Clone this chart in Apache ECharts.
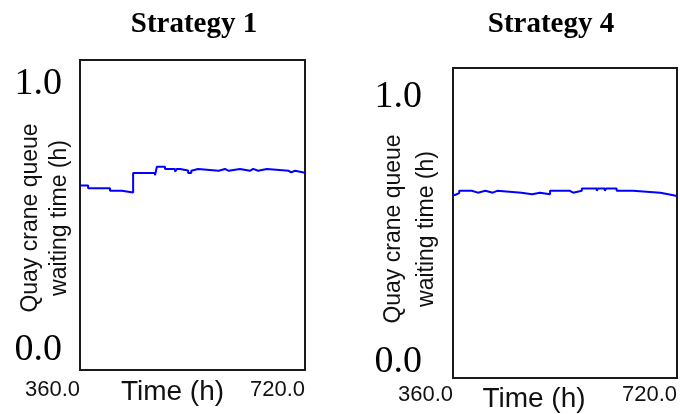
<!DOCTYPE html>
<html>
<head>
<meta charset="utf-8">
<script src="https://cdn.jsdelivr.net/npm/echarts@6/dist/echarts.min.js"></script>
<style>
  html, body { margin: 0; padding: 0; background: #ffffff; }
  #chart { width: 680px; height: 414px; }
</style>
</head>
<body>
<div id="chart"></div>
<script>
// Panel titles and axis texts
const panelTitles = ['Strategy 1', 'Strategy 4'];
const xAxisName = 'Time (h)';
const yAxisName = 'Quay crane queue\nwaiting time (h)';
const xTicks = [360, 720];
const yTicks = [0, 1];

// Strategy 1: time (h) at which the queue waiting time (h) changes
const s1Time = [355, 373, 408, 427, 445, 464, 466, 480, 483, 496, 512, 515, 520, 533, 538,
                541, 549, 582, 592, 598, 616, 632, 637, 645, 659, 694, 698, 704, 720];
const s1Wait = [0.620, 0.609, 0.600, 0.593, 0.667, 0.662, 0.667, 0.658, 0.690, 0.682, 0.672, 0.682, 0.676, 0.667, 0.675,
                0.682, 0.675, 0.682, 0.675, 0.682, 0.675, 0.682, 0.675, 0.682, 0.675, 0.669, 0.675, 0.668, 0.668];

// Strategy 4
const s4Time = [352, 363, 370, 390, 400, 412, 424, 431, 470, 487, 500, 516,
                548, 553, 567, 591, 593, 604, 606, 623, 649, 693, 706, 720];
const s4Wait = [0.630, 0.637, 0.646, 0.639, 0.646, 0.639, 0.646, 0.639, 0.633, 0.639, 0.633, 0.646,
                0.639, 0.646, 0.655, 0.646, 0.655, 0.646, 0.655, 0.646, 0.639, 0.633, 0.626, 0.626];

const zip = (xs, ys) => xs.map((x, i) => [x, ys[i]]);

const SANS = '"Liberation Sans", Arial, sans-serif';
const SERIF = '"Liberation Serif", "Times New Roman", serif';

// Per-panel layout
const panels = [
  { grid: { left: 80, top: 60, width: 225, height: 310 }, yMin: -0.0753, yMax: 1.0923,
    titleX: 194, yLabelMargin: 18, xLabelMargin: 9, xNameGap: 8, xNameShift: 40,
    yNameGap: 6, yNameLine: 29, yNameShift: 6, time: s1Time, wait: s1Wait },
  { grid: { left: 453, top: 68, width: 224, height: 310 }, yMin: -0.0604, yMax: 1.1094,
    titleX: 551, yLabelMargin: 31, xLabelMargin: 6, xNameGap: 7, xNameShift: 62,
    yNameGap: 10, yNameLine: 33, yNameShift: 12, time: s4Time, wait: s4Wait }
];

const option = {
  animation: false,
  backgroundColor: '#ffffff',
  title: panels.map((p, i) => ({
    text: panelTitles[i],
    left: p.titleX,
    top: 10,
    textAlign: 'center',
    padding: 0,
    textStyle: { fontFamily: SERIF, fontWeight: 'bold', fontSize: 29, color: '#000' }
  })),
  grid: panels.map(p => Object.assign({
    show: true, borderColor: '#1a1a1a', borderWidth: 2, backgroundColor: '#ffffff',
    containLabel: false, outerBoundsMode: 'none'
  }, p.grid)),
  xAxis: panels.map((p, i) => ({
    type: 'value', gridIndex: i, min: xTicks[0], max: xTicks[1],
    axisLine: { show: false }, axisTick: { show: false }, splitLine: { show: false },
    axisLabel: {
      customValues: xTicks, align: 'right', margin: p.xLabelMargin,
      formatter: v => v.toFixed(1),
      fontFamily: SANS, fontSize: 22, color: '#111'
    },
    name: xAxisName, nameLocation: 'middle', nameGap: p.xNameGap, nameMoveOverlap: false,
    nameTextStyle: { fontFamily: SANS, fontSize: 28, color: '#111',
                     padding: [0, p.xNameShift, 0, 0] }
  })),
  yAxis: panels.map((p, i) => ({
    type: 'value', gridIndex: i, min: p.yMin, max: p.yMax,
    axisLine: { show: false }, axisTick: { show: false }, splitLine: { show: false },
    axisLabel: {
      customValues: yTicks, margin: p.yLabelMargin,
      formatter: v => v.toFixed(1),
      fontFamily: SERIF, fontSize: 38, color: '#000'
    },
    name: yAxisName, nameLocation: 'middle', nameGap: p.yNameGap, nameMoveOverlap: false,
    nameTextStyle: { fontFamily: SANS, fontSize: 23, lineHeight: p.yNameLine, color: '#111',
                     padding: [0, p.yNameShift, 0, 0] }
  })),
  series: panels.map((p, i) => ({
    type: 'line', xAxisIndex: i, yAxisIndex: i,
    step: 'end', showSymbol: false, clip: false,
    lineStyle: { color: '#0000ff', width: 2 },
    data: zip(p.time, p.wait)
  }))
};

echarts.init(document.getElementById('chart'), null, { renderer: 'canvas' }).setOption(option);
</script>
</body>
</html>
